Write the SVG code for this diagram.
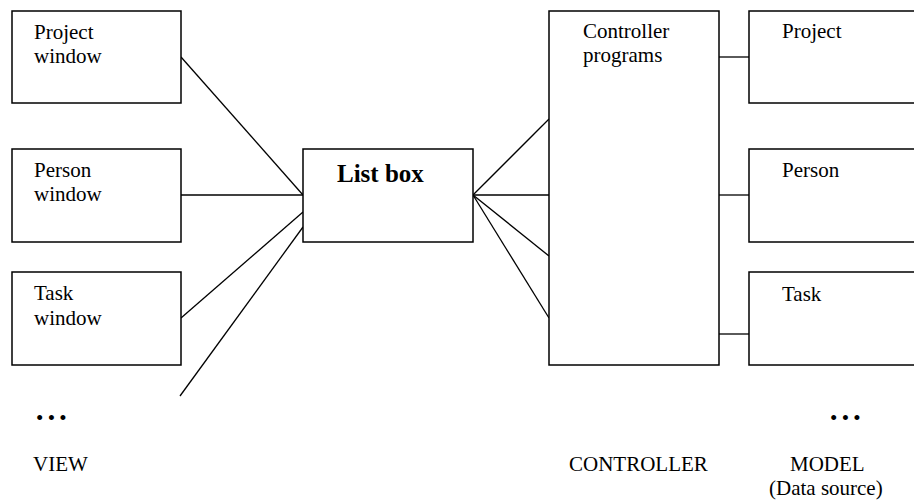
<svg xmlns="http://www.w3.org/2000/svg" width="914" height="502" viewBox="0 0 914 502">
  <style>
    .box { fill: #fff; stroke: #000; stroke-width: 1.5; }
    .wire { stroke: #000; stroke-width: 1.3; fill: none; }
    .lbl { font-family: "Liberation Serif", "Times New Roman", serif; font-size: 21px; fill: #000; }
    .title { font-family: "Liberation Serif", "Times New Roman", serif; font-size: 25px; font-weight: bold; fill: #000; }
    .dots { font-family: "Liberation Serif", "Times New Roman", serif; font-size: 21px; letter-spacing: 4.3px; fill: #000; }
  </style>
  <rect width="914" height="502" fill="#fff"/>

  <!-- connectors -->
  <g id="connectors">
    <line class="wire" x1="181" y1="57" x2="303" y2="195"/>
    <line class="wire" x1="181" y1="195" x2="303" y2="195"/>
    <line class="wire" x1="181" y1="318" x2="303" y2="212"/>
    <line class="wire" x1="180" y1="396" x2="303" y2="227"/>
    <line class="wire" x1="473" y1="195" x2="549" y2="119"/>
    <line class="wire" x1="473" y1="195" x2="549" y2="195"/>
    <line class="wire" x1="473" y1="195" x2="549" y2="256"/>
    <line class="wire" x1="473" y1="195" x2="549" y2="318"/>
    <line class="wire" x1="719" y1="57" x2="749" y2="57"/>
    <line class="wire" x1="719" y1="195" x2="749" y2="195"/>
    <line class="wire" x1="719" y1="334" x2="749" y2="334"/>
  </g>

  <!-- view -->
  <g id="project-window">
    <rect class="box" x="12" y="11" width="169" height="92"/>
    <text class="lbl" x="34" y="39">Project</text>
    <text class="lbl" x="34" y="63">window</text>
  </g>
  <g id="person-window">
    <rect class="box" x="12" y="149" width="169" height="93"/>
    <text class="lbl" x="34" y="177">Person</text>
    <text class="lbl" x="34" y="201">window</text>
  </g>
  <g id="task-window">
    <rect class="box" x="12" y="272" width="169" height="93"/>
    <text class="lbl" x="34" y="300">Task</text>
    <text class="lbl" x="34" y="325">window</text>
  </g>

  <g id="list-box">
    <rect class="box" x="303" y="149" width="170" height="93"/>
    <text class="title" x="337" y="182">List box</text>
  </g>

  <!-- controller -->
  <g id="controller-programs">
    <rect class="box" x="549" y="11" width="170" height="354"/>
    <text class="lbl" x="583" y="38">Controller</text>
    <text class="lbl" x="583" y="62">programs</text>
  </g>

  <!-- model -->
  <g id="model-project">
    <rect class="box" x="749" y="11" width="200" height="92"/>
    <text class="lbl" x="782" y="38">Project</text>
  </g>
  <g id="model-person">
    <rect class="box" x="749" y="149" width="200" height="93"/>
    <text class="lbl" x="782" y="177">Person</text>
  </g>
  <g id="model-task">
    <rect class="box" x="749" y="272" width="200" height="93"/>
    <text class="lbl" x="782" y="301">Task</text>
  </g>

  <!-- column captions -->
  <g id="captions">
    <text class="dots" x="36" y="425">•••</text>
    <text class="dots" x="830" y="425">•••</text>
    <text class="lbl" x="33" y="471">VIEW</text>
    <text class="lbl" x="569" y="471">CONTROLLER</text>
    <text class="lbl" x="790" y="471">MODEL</text>
    <text class="lbl" x="769" y="495">(Data source)</text>
  </g>
</svg>
